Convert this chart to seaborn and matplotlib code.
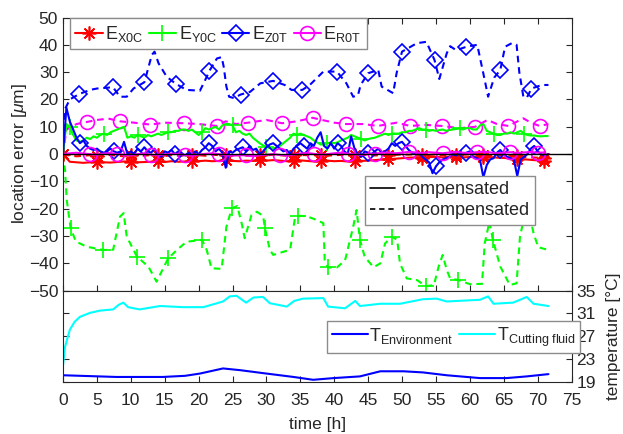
import numpy as np
import matplotlib
matplotlib.use("Agg")
import matplotlib.pyplot as plt
from matplotlib.lines import Line2D
import seaborn as sns

# ---------------- data ----------------
# compensated series, sampled every 0.5 h
STEP_FINE = 0.5
Y0C_COMP = [0, 11, 10, 7, 5, 4.5, 5, 6, 5.5, 6.5, 6, 7, 7.5, 7, 8, 8.5, 9, 9.5, 10, 6,
            6.5, 6, 7, 6.5, 6, 7, 6.5, 7, 7.5, 7, 7.5, 8, 8, 8.5, 8.5, 9, 9, 8.5, 9, 8,
            7, 8, 9.5, 9, 9.5, 10, 9, 10.5, 11, 11, 10.5, 8, 8.5, 7.5, 7, 7.5, 6, 5, 4, 3.2,
            2.7, 2.2, 2, 2.5, 3, 4, 5, 6, 7.5, 7, 7.5, 7, 6.5, 6, 5, 4.3, 3.5, 3.5, 4, 4.2,
            4, 4.3, 5, 5.5, 6, 7, 6.5, 6, 5.5, 5, 5.5, 5.8, 6, 6.5, 7, 7.5, 7, 7.5, 7.5, 7.5,
            8, 8, 8.5, 8.5, 9, 9.5, 9, 9, 8.5, 8.8, 8.5, 8.8, 9, 8.5, 8.8, 9, 9.2, 9.4, 9, 9.5,
            9.5, 9, 9, 10.5, 11, 8.5, 8, 7.5, 7, 7, 7.5, 7.5, 8, 7.5, 8, 8.5, 7.5, 7, 6.8, 6.8,
            6.6, 6.5, 6.6, 6.6]
Z0T_COMP = [0, 17, 12, 9, 6, 4, 5, 3, 2, 1.5, 2, 1, 0.5, 1, 2, 1, 0.5, 1, 4.5, 0,
            1, 0, 2, 1, 2.5, 1, 0.5, 2, 0, -1, 1, 0.5, 1.5, 0, 1, 0, -0.5, 0.5, 0, 1,
            0, 1.5, 2.5, 4, 3, 1, 2, 0.5, -5, 1, 0.5, 1.5, 2, 2.5, 1, 3, 1.5, 2, 0, 1,
            2.5, 3.5, 4, 3, 2, 1, 1.5, 0, 2, 3, 4, 3, 2, 4, 3, 6, 8, 3, 2, 4,
            2, 4, 3, 1, 0, 6.5, 2, 0, -1, 1, 0.5, 0, 1, 2, 0.5, 1, 2, 4, 3, 4,
            4.5, 3, 1.5, 0.5, 0, 0.5, -1, -2, -3, -7, -4.5, -3, -2, -1.5, -1, 0, -0.5, 0.5, 0, 0.5,
            1, -1, -1.5, -2, -8.5, -4, -2, -1.5, 0.5, 1.5, 0, -1, -1.5, -2, -8, -2, -1, 0, 2, 3,
            1, 0, -0.5, 0]

# compensated series, sampled every 1 h
STEP_COARSE = 1.0
X0C_COMP = [0, -2.8, -3.0, -3.2, -3.0, -2.8, -3.0, -3.1, -2.9, -2.7, -2.8, -3.0, -2.9, -2.8,
            -2.7, -2.9, -2.6, -2.8, -2.7, -2.5, -2.6, -2.4, -2.6, -2.5, -2.3, -2.5, -2.6,
            -2.4, -2.5, -2.3, -2.4, -2.2, -2.4, -2.6, -2.5, -2.3, -2.5, -2.7, -2.6, -2.4,
            -2.6, -2.5, -2.7, -2.6, -2.5, -2.4, -2.2, -2.0, -1.8, -1.7, -1.5, -1.3, -1.2,
            -1.4, -1.1, -1.0, -1.2, -0.9, -1.0, -1.2, -1.1, -0.9, -1.2, -1.1, -1.3, -1.4,
            -1.6, -1.8, -1.9, -2.1, -2.3, -2.5]
R0T_COMP = [0, 0.3, 0.5, 0.2, 0, -0.3, 0.2, 0.4, 0, -0.2, -0.5, 0, 0.3, -0.2, -0.4, -0.1,
            0.2, 0, -0.3, -0.6, -0.2, 0.1, 0.3, 0, -0.4, -0.6, -0.3, -0.5, -0.8, -0.4, -0.2,
            0, -0.3, -0.5, -0.2, 0.2, 0.4, 0.1, -0.2, 0, 0.3, 0.5, 0.2, -0.1, -0.3, 0, 0.2,
            0.4, 0.6, 0.3, 0.5, 0.8, 0.6, 0.4, 0.7, 0.5, 0.3, 0.6, 0.8, 0.5, 0.4, 0.7, 0.9,
            0.6, 0.3, 0.5, 0.7, 0.4, 0.6, 0.8, 0.5, 0.6]
X0C_UNCOMP = [0, -0.5, -0.8, -0.6, -0.4, -0.7, -0.5, -0.3, -0.6, -0.8, -0.5, -0.4, -0.6,
              -0.3, -0.5, -0.7, -0.4, -0.6, -0.5, -0.3, -0.4, -0.6, -0.2, -0.4, -0.5, -0.3,
              -0.5, -0.6, -0.4, -0.3, -0.5, -0.2, -0.4, -0.6, -0.5, -0.3, -0.4, -0.2, -0.5,
              -0.6, -0.4, -0.3, -0.5, -0.4, -0.2, -0.3, -0.5, -0.4, -0.2, -0.3, -0.1, -0.2,
              0, -0.2, -0.3, -0.1, -0.4, -0.5, -0.3, -0.2, -0.1, 0, -0.3, -0.4, -0.2, -0.5,
              -0.6, -0.8, -1.0, -1.2, -1.3, -1.5]

# uncompensated series (irregular sampling)
Y0C_UNC_T = [0, 0.3, 0.55, 1.13, 1.9, 3.5, 5.95, 7.4, 8.4, 8.95, 9.4, 10.9, 12.6, 13.8, 15.5,
             16.8, 18.2, 20.5, 21.2, 21.9, 23.4, 24.1, 24.9, 25.7, 26.35, 26.8, 27.8, 28.6,
             29.5, 29.8, 30.5, 31.0, 33.5, 34.2, 34.7, 35.9, 37.4, 38.4, 38.6, 39.1, 40.4,
             41.6, 42.8, 43.3, 43.8, 44.5, 45.8, 46.8, 47.5, 48.5, 49.3, 49.7, 50.7, 52.2,
             53.5, 54.7, 55.4, 56.0, 56.6, 57.1, 58.3, 60.0, 61.8, 62.2, 62.9, 63.4, 64.5,
             65.9, 66.9, 67.4, 68.1, 68.6, 69.4, 70.1, 71.3, 71.6]
Y0C_UNC_V = [0, -5.8, -16.8, -27.2, -32, -33.9, -35.1, -35, -22.9, -21.6, -30.2, -37.5, -41.2,
             -46.7, -38.2, -35.1, -32.1, -31.4, -35.1, -41.8, -42, -26.6, -19.9, -19, -25.3,
             -30.8, -22.3, -21.1, -22.6, -27.2, -35, -36.9, -35, -23.5, -22.6, -22.7, -24.1,
             -25.3, -38.9, -41.5, -41.5, -38.9, -26.6, -20.5, -31.4, -37.6, -41.4, -40,
             -32.7, -30.2, -31.4, -40, -45.5, -46.1, -48.3, -48, -41.2, -36.9, -42.4, -45.5,
             -46.1, -47.6, -47.5, -32.7, -24.7, -31.4, -41.2, -47.9, -47.3, -30.2, -22.3,
             -19.3, -29, -34.1, -34.9, -34.9]
Z0T_UNC_T = [0, 0.3, 1.0, 2.4, 4.0, 5.0, 7.0, 7.4, 8.4, 9.4, 10.4, 12.0, 12.3, 13.1, 13.5,
             14.1, 15.3, 16.6, 18.2, 20.2, 21.2, 21.6, 22.7, 23.4, 23.7, 24.1, 24.5, 25.2,
             26.2, 27.6, 29.1, 31.0, 32.7, 33.7, 35.3, 36.4, 38.4, 40.4, 41.8, 42.8, 43.5,
             43.9, 45.0, 46.5, 47.0, 48.7, 49.2, 50.0, 52.2, 53.6, 54.8, 55.5, 56.6, 57.1,
             58.0, 59.5, 61.1, 62.2, 62.7, 63.6, 64.5, 65.2, 66.2, 66.9, 67.3, 67.9, 68.4,
             69.1, 70.6, 71.6]
Z0T_UNC_V = [0, 16.5, 20, 22, 23.5, 24, 24.4, 24.4, 21, 21, 24, 26.3, 29, 36.3, 37.5, 33.2,
             28.3, 25.8, 23.5, 23.2, 28.3, 30.5, 35, 35.5, 32, 24.7, 21, 20.5, 21.8, 22.8,
             25.9, 26.8, 25.3, 23.5, 23.5, 25.3, 30.2, 30.2, 25.9, 21, 21.5, 25.3, 29.6,
             30.8, 24.7, 22.3, 29.6, 37.5, 40.6, 41.1, 34.4, 27.5, 36.9, 39.5, 38, 39.3, 40,
             27.1, 21, 28, 30.8, 39.3, 40.6, 40, 30, 21, 20.6, 24, 25.3, 25.3]
R0T_UNC_T = [0, 0.5, 2, 3.6, 5, 6.7, 8.4, 10.5, 12.9, 15, 17.8, 20, 22.7, 24, 25.5, 27.3, 30,
             32.3, 34.5, 36.8, 38.2, 40, 41.8, 44.3, 46.4, 49.2, 51.2, 53.5, 55.9, 58.5, 60.8,
             62.6, 64, 65.7, 67.9, 69, 70.3, 71.6]
R0T_UNC_V = [0, 9, 11, 11.8, 12.5, 13, 12, 11.5, 10.8, 11.5, 11.3, 11, 10.3, 12, 11, 11.5,
             12.5, 11.3, 12, 13.3, 12.5, 11.5, 11, 11, 10.3, 11.5, 10.3, 10.7, 10.3, 9.5, 10,
             12.5, 11, 10.3, 13.1, 11.5, 10.3, 11]

# marker sample times (h) for each error component
MARK_X = [0, 4.8, 9.6, 14.4, 19.2, 24, 28.8, 33.6, 38.4, 43.2, 48, 52.8, 57.6, 62.4, 67.2, 71.5]
MARK_Y = [1.2, 6, 10.9, 15.5, 20.5, 25, 29.8, 34.6, 39.2, 43.8, 48.5, 53.4, 58.3, 63.3, 68.1]
MARK_Z = [2.3, 7.3, 12, 16.7, 21.6, 26.4, 31.1, 35.5, 40.4, 45, 50, 54.8, 59.5, 64.4, 69.3]
MARK_R = [3.6, 8.4, 13, 17.8, 22.7, 27.3, 32.3, 36.8, 41.8, 46.4, 51, 55.9, 60.8, 65.6, 70.3]

# temperatures
T_FLUID_T = [0, 0.3, 1.0, 1.7, 2.5, 4, 5.5, 7.4, 8.2, 8.9, 9.6, 11.3, 14.3, 17.7, 20.7, 23.6,
             24.6, 25.6, 27, 28.1, 29.5, 30.5, 33, 34.1, 35.4, 38.4, 39.1, 41.6, 43.1, 43.8,
             46.8, 49.7, 53.1, 55.1, 56.6, 61.5, 62.7, 63.5, 66.4, 67.4, 68.4, 69.4, 71.6]
T_FLUID_V = [21.8, 25.1, 28.1, 29.5, 30.4, 31.1, 31.5, 31.7, 32.5, 32.9, 32.1, 31.7, 32.3,
             32.1, 32.1, 33.1, 34.0, 34.1, 32.9, 33.8, 33.9, 32.8, 32.2, 33.2, 33.6, 33.7,
             32.2, 31.9, 33.2, 32.3, 32.7, 32.7, 33.5, 33.6, 33.1, 33.4, 34.0, 32.7, 32.9,
             33.4, 33.9, 32.7, 32.3]
T_ENV_T = [0, 7.9, 14.7, 18, 20.2, 23.6, 26.1, 30, 34, 36.9, 39.9, 43.8, 46.8, 50.2, 53.1,
           56.6, 61.5, 65.4, 68.4, 71.6]
T_ENV_V = [20.1, 19.8, 19.8, 20.0, 20.4, 21.3, 21.0, 20.4, 19.8, 19.3, 19.6, 19.9, 20.8, 20.8,
           20.6, 20.1, 19.6, 19.6, 19.9, 20.3]

LABELS = [r'$\mathregular{E_{X0C}}$', r'$\mathregular{E_{Y0C}}$',
          r'$\mathregular{E_{Z0T}}$', r'$\mathregular{E_{R0T}}$']
X_TICKS = list(range(0, 80, 5))
Y_TICKS = list(range(-50, 60, 10))
T_TICKS = [19, 23, 27, 31, 35]

# ---------------- style ----------------
sns.set_theme(style="ticks")
plt.rcParams.update({
    "font.family": ["Liberation Sans", "DejaVu Sans"],
    "mathtext.fontset": "custom",
    "mathtext.rm": "Liberation Sans",
    "mathtext.it": "Liberation Sans:italic",
    "mathtext.bf": "Liberation Sans:bold",
    "font.size": 12.5,
    "axes.edgecolor": "#262626",
    "axes.linewidth": 0.8,
    "xtick.color": "#262626",
    "ytick.color": "#262626",
    "xtick.labelcolor": "#262626",
    "ytick.labelcolor": "#262626",
    "xtick.direction": "in",
    "ytick.direction": "in",
    "xtick.major.size": 4,
    "ytick.major.size": 4,
    "xtick.major.width": 0.8,
    "ytick.major.width": 0.8,
    "xtick.labelsize": 12.5,
    "ytick.labelsize": 12.5,
    "axes.labelsize": 12.5,
    "axes.labelcolor": "#262626",
})

RED, GREEN, BLUE, MAG, CYAN = "#FF0000", "#00FF00", "#0000FF", "#FF00FF", "#00FFFF"
MARKERS = [(8, 2, 0), "+", "D", "o"]
MSIZE = [10, 11, 8, 10]
DASH = (0, (3.2, 2.3))

fig = plt.figure(figsize=(6.23, 4.34), dpi=100)
L, W = 63 / 623, (571.5 - 63) / 623
ax1 = fig.add_axes([L, 1 - 290.7 / 434, W, (290.7 - 17.5) / 434])
ax2 = fig.add_axes([L, 1 - 381.5 / 434, W, (381.5 - 290.7) / 434])


def marks(t, times):
    t = np.asarray(t, dtype=float)
    return sorted({int(np.abs(t - m).argmin()) for m in times})


def draw(ax, t, v, color, marker, ms, mtimes, ls):
    sns.lineplot(x=np.asarray(t, dtype=float), y=np.asarray(v, dtype=float), ax=ax,
                 color=color, linewidth=1.5, linestyle=ls, marker=marker,
                 markersize=ms, markerfacecolor="none", markeredgecolor=color,
                 markeredgewidth=1.2, markevery=marks(t, mtimes),
                 errorbar=None, estimator=None, sort=False, legend=False)


t_fine_g = np.arange(len(Y0C_COMP)) * STEP_FINE
t_fine_b = np.arange(len(Z0T_COMP)) * STEP_FINE
t_c_r = np.arange(len(X0C_COMP)) * STEP_COARSE
t_c_m = np.arange(len(R0T_COMP)) * STEP_COARSE
t_c_ru = np.arange(len(X0C_UNCOMP)) * STEP_COARSE

# uncompensated (dashed)
draw(ax1, t_c_ru, X0C_UNCOMP, RED, MARKERS[0], MSIZE[0], MARK_X, DASH)
draw(ax1, Y0C_UNC_T, Y0C_UNC_V, GREEN, MARKERS[1], MSIZE[1], MARK_Y, DASH)
draw(ax1, Z0T_UNC_T, Z0T_UNC_V, BLUE, MARKERS[2], MSIZE[2], MARK_Z, DASH)
draw(ax1, R0T_UNC_T, R0T_UNC_V, MAG, MARKERS[3], MSIZE[3], MARK_R, DASH)
# compensated (solid)
draw(ax1, t_c_r, X0C_COMP, RED, MARKERS[0], MSIZE[0], MARK_X, "-")
draw(ax1, t_fine_g, Y0C_COMP, GREEN, MARKERS[1], MSIZE[1], MARK_Y, "-")
draw(ax1, t_fine_b, Z0T_COMP, BLUE, MARKERS[2], MSIZE[2], MARK_Z, "-")
draw(ax1, t_c_m, R0T_COMP, MAG, MARKERS[3], MSIZE[3], MARK_R, "-")

ax1.axhline(0, color="black", linewidth=1.0, zorder=5)
ax1.set_xlim(0, 75)
ax1.set_ylim(-50, 50)
ax1.set_xticks(X_TICKS)
ax1.set_yticks(Y_TICKS)
ax1.tick_params(axis="x", bottom=True, top=True, labelbottom=False)
ax1.tick_params(axis="y", left=True, right=True)
ax1.set_xlabel("")
ax1.set_ylabel(r"location error [$\mu$m]", labelpad=0)

h1 = [Line2D([], [], color=c, marker=m, markersize=s, markerfacecolor="none",
             markeredgecolor=c, markeredgewidth=1.2, linewidth=1.5)
      for c, m, s in zip([RED, GREEN, BLUE, MAG], MARKERS, MSIZE)]
leg1 = ax1.legend(h1, LABELS, ncol=4, loc="upper left",
                  bbox_to_anchor=(70 / 623, 1 - 18.5 / 434), bbox_transform=fig.transFigure,
                  borderaxespad=0, handlelength=1.5, handletextpad=0.15, columnspacing=0.3,
                  borderpad=0.3, fancybox=False, framealpha=1, edgecolor="#8c8c8c",
                  fontsize=13)
leg1.get_frame().set_linewidth(1.0)
ax1.add_artist(leg1)

h2 = [Line2D([], [], color="black", linewidth=1.2, linestyle="-"),
      Line2D([], [], color="black", linewidth=1.2, linestyle=DASH)]
leg2 = ax1.legend(h2, ["compensated", "uncompensated"], loc="upper left",
                  bbox_to_anchor=(364.5 / 623, 1 - 175.5 / 434), bbox_transform=fig.transFigure,
                  borderaxespad=0, handlelength=1.4, handletextpad=0.35, borderpad=0.3,
                  labelspacing=0.25, fancybox=False, framealpha=1, edgecolor="#8c8c8c",
                  fontsize=13)
leg2.get_frame().set_linewidth(1.0)

# temperatures
sns.lineplot(x=T_ENV_T, y=T_ENV_V, ax=ax2, color=BLUE, linewidth=1.5, errorbar=None,
             estimator=None, sort=False, legend=False)
sns.lineplot(x=T_FLUID_T, y=T_FLUID_V, ax=ax2, color=CYAN, linewidth=1.5, errorbar=None,
             estimator=None, sort=False, legend=False)
ax2.set_xlim(0, 75)
ax2.set_ylim(19, 35)
ax2.set_xticks(X_TICKS)
ax2.set_yticks(T_TICKS)
ax2.tick_params(axis="x", bottom=True, top=False, labelbottom=True, pad=8)
ax2.tick_params(axis="y", left=True, right=True, labelleft=False, labelright=True, pad=3.5)
ax2.yaxis.set_label_position("right")
ax2.set_ylabel("temperature [°C]")
ax2.yaxis.set_label_coords(1.068, 0.5)
ax2.set_xlabel("time [h]", labelpad=7)

h3 = [Line2D([], [], color=BLUE, linewidth=1.5), Line2D([], [], color=CYAN, linewidth=1.5)]
leg3 = ax2.legend(h3, [r'$\mathregular{T_{Environment}}$', r'$\mathregular{T_{Cutting\ fluid}}$'],
                  ncol=2, loc="upper left", bbox_to_anchor=(327 / 623, 1 - 321 / 434),
                  bbox_transform=fig.transFigure, borderaxespad=0, handlelength=2.0,
                  handletextpad=0.1, columnspacing=0.3, borderpad=0.25, fancybox=False,
                  framealpha=1, edgecolor="#8c8c8c", fontsize=13)
leg3.get_frame().set_linewidth(1.0)

for ax in (ax1, ax2):
    for s in ax.spines.values():
        s.set_visible(True)

fig.savefig("out.png", dpi=100)
